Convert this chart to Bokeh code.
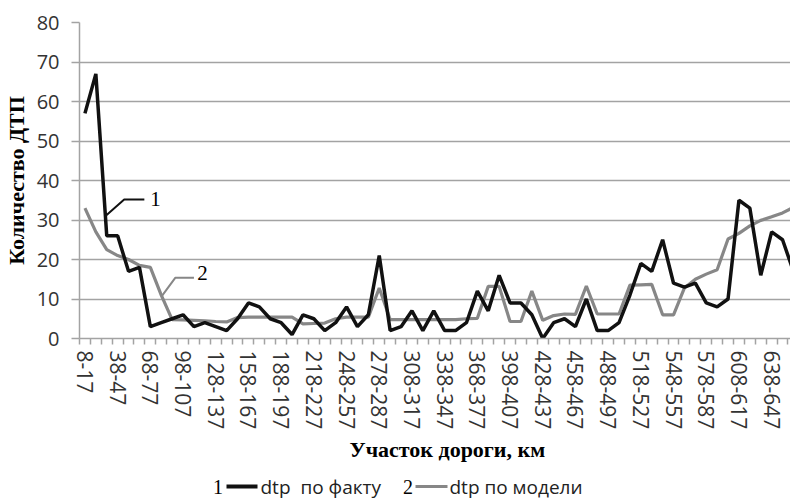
from bokeh.plotting import figure
from bokeh.layouts import column
from bokeh.models import Range1d, FixedTicker, Label, ColumnDataSource, Title
from bokeh.embed import file_html
from bokeh.resources import INLINE

# --- data -------------------------------------------------------------
segments = [
    "8-17", "18-27", "28-37", "38-47", "48-57", "58-67", "68-77", "78-87", "88-97", "98-107",
    "108-117", "118-127", "128-137", "138-147", "148-157", "158-167", "168-177", "178-187",
    "188-197", "198-207", "208-217", "218-227", "228-237", "238-247", "248-257", "258-267",
    "268-277", "278-287", "288-297", "298-307", "308-317", "318-327", "328-337", "338-347",
    "348-357", "358-367", "368-377", "378-387", "388-397", "398-407", "408-417", "418-427",
    "428-437", "438-447", "448-457", "458-467", "468-477", "478-487", "488-497", "498-507",
    "508-517", "518-527", "528-537", "538-547", "548-557", "558-567", "568-577", "578-587",
    "588-597", "598-607", "608-617", "618-627", "628-637", "638-647", "648-657", "658-667",
]

dtp_fact = [
    57, 67, 26, 26, 17, 18, 3, 4, 5, 6,
    3, 4, 3, 2, 5, 9, 8, 5, 4, 1,
    6, 5, 2, 4, 8, 3, 6, 21, 2, 3,
    7, 2, 7, 2, 2, 4, 12, 7, 16, 9,
    9, 6, 0, 4, 5, 3, 10, 2, 2, 4,
    11, 19, 17, 25, 14, 13, 14, 9, 8, 10,
    35, 33, 16, 27, 25, 17,
]

dtp_model = [
    33, 27, 22.5, 21, 20, 18.5, 18, 11, 4.8, 4.7,
    4.6, 4.5, 4.3, 4.2, 5.3, 5.4, 5.4, 5.4, 5.4, 5.4,
    3.7, 3.8, 3.9, 5.0, 5.4, 5.4, 5.4, 12.8, 4.8, 4.8,
    4.8, 4.8, 4.8, 4.8, 4.8, 5.0, 5.1, 13.2, 13.2, 4.3,
    4.3, 12.0, 4.6, 5.8, 6.2, 6.1, 13.3, 6.2, 6.2, 6.2,
    13.5, 13.6, 13.7, 6.0, 6.0, 12.8, 15.0, 16.3, 17.4, 25.2,
    26.6, 28.5, 29.9, 30.8, 31.8, 33.2,
]

series_names = ["dtp\u00a0 по факту", "dtp по модели"]
series_marks = ["1", "2"]
label_step = 3

# --- styles -----------------------------------------------------------
GRID = "#a3a3a3"
BLACK = "#111111"
GREY = "#878787"
TICKFONT = "Open Sans"
SERIF = "Liberation Serif"

# --- main figure ------------------------------------------------------
idx = list(range(len(segments)))
src = ColumnDataSource(dict(x=idx, fact=dtp_fact, model=dtp_model))

p = figure(
    width=790, height=466,
    output_backend="svg", toolbar_location=None,
    x_range=Range1d(-0.5, 64.73), y_range=Range1d(0, 80),
    min_border_left=79, min_border_right=0, min_border_top=22, min_border_bottom=128,
)
p.outline_line_color = None
p.background_fill_color = "white"
p.border_fill_color = "white"

# y axis
p.yaxis.ticker = FixedTicker(ticks=[0, 10, 20, 30, 40, 50, 60, 70, 80])
p.yaxis.axis_line_color = GRID
p.yaxis.axis_line_width = 1.5
p.yaxis.major_tick_line_color = GRID
p.yaxis.major_tick_line_width = 1.5
p.yaxis.major_tick_out = 8
p.yaxis.major_tick_in = 0
p.yaxis.minor_tick_line_color = None
p.yaxis.major_label_standoff = 12
p.yaxis.major_label_text_font = TICKFONT
p.yaxis.major_label_text_font_size = "20px"
p.yaxis.major_label_text_color = "#333333"
p.yaxis.axis_label = "Количество ДТП"
p.yaxis.axis_label_text_font = SERIF
p.yaxis.axis_label_text_font_style = "bold"
p.yaxis.axis_label_text_font_size = "22px"
p.yaxis.axis_label_text_color = "black"
p.yaxis.axis_label_standoff = 5

# x axis: labels every 3rd segment, tick marks at each segment boundary
label_ticks = idx[::label_step]
boundaries = [i - 0.5 for i in idx] + [idx[-1] + 0.5]
p.xaxis.ticker = FixedTicker(ticks=label_ticks, minor_ticks=boundaries)
p.xaxis.major_label_overrides = {i: segments[i] for i in label_ticks}
p.xaxis.major_label_orientation = "vertical"
p.xaxis.axis_line_color = GRID
p.xaxis.axis_line_width = 1.5
p.xaxis.major_tick_line_color = None
p.xaxis.major_tick_out = 6
p.xaxis.major_tick_in = 0
p.xaxis.minor_tick_line_color = GRID
p.xaxis.minor_tick_line_width = 1.5
p.xaxis.minor_tick_out = 6
p.xaxis.minor_tick_in = 0
p.xaxis.major_label_standoff = 6
p.xaxis.major_label_text_font = TICKFONT
p.xaxis.major_label_text_font_size = "21px"
p.xaxis.major_label_text_color = "#333333"

p.xgrid.grid_line_color = None
p.ygrid.grid_line_color = GRID
p.ygrid.grid_line_width = 1.5

# series
p.line("x", "model", source=src, line_color=GREY, line_width=3.2)
p.line("x", "fact", source=src, line_color=BLACK, line_width=3.5)

# callouts "1" and "2"
p.line([1.91, 3.6, 5.45], [31.1, 35.2, 35.2], line_color=BLACK, line_width=2)
p.line([7.1, 8.3, 10.0], [10.9, 15.4, 15.4], line_color=GREY, line_width=2)
p.add_layout(Label(x=6.0, y=35.3, text=series_marks[0], text_font=SERIF, text_font_size="21px",
                   text_baseline="middle", text_align="left", text_color="black"))
p.add_layout(Label(x=10.3, y=16.5, text=series_marks[1], text_font=SERIF, text_font_size="21px",
                   text_baseline="middle", text_align="left", text_color="black"))

# x axis title
p.add_layout(Title(text="Участок дороги, км", align="left", offset=270,
                   text_font=SERIF, text_font_size="22px", text_font_style="bold",
                   text_color="black", standoff=4), "below")

# --- legend strip (own small figure; its frame is aligned with the main one,
#     so x is in page pixels from 79 to 790) ------------------------------
lg = figure(width=790, height=33, output_backend="svg", toolbar_location=None,
            x_range=Range1d(79, 790), y_range=Range1d(0, 33),
            min_border=0, x_axis_type=None, y_axis_type=None)
lg.outline_line_color = None
lg.xgrid.grid_line_color = None
lg.ygrid.grid_line_color = None
lg.background_fill_color = "white"
lg.border_fill_color = "white"

legend_row_y = 13
legend_items = [  # (mark x, sample x0, sample x1, text x, colour, width)
    (217.5, 226, 257, 260, BLACK, 4),
    (407.5, 415, 447, 449, GREY, 3),
]
for (mx, x0, x1, tx, col, w), name, mark in zip(legend_items, series_names, series_marks):
    lg.add_layout(Label(x=mx, y=legend_row_y, text=mark, text_font=SERIF, text_font_size="20px",
                        text_align="center", text_baseline="middle", text_color="black"))
    lg.line([x0, x1], [legend_row_y, legend_row_y], line_color=col, line_width=w)
    lg.add_layout(Label(x=tx, y=legend_row_y, text=name, text_font=TICKFONT, text_font_size="19px",
                        text_align="left", text_baseline="middle", text_color="#222222"))

layout = column(p, lg, spacing=0)
open("out.html", "w").write(file_html(layout, INLINE))
